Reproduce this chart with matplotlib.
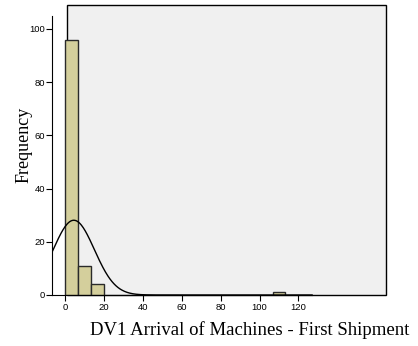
import numpy as np
import matplotlib.pyplot as plt
from matplotlib.patches import Rectangle

# histogram bins (left edges) and counts
largura = 20 / 3
bordas = [0, 20 / 3, 40 / 3, 320 / 3]
freq = [96, 11, 4, 1]

# normal curve fitted by SPSS
media = 4.5
desvio = 10.6
n_total = sum(freq)

xticks = [0, 20, 40, 60, 80, 100, 120]
yticks = [0, 20, 40, 60, 80, 100]

W, H = 418, 346
fig = plt.figure(figsize=(W / 100, H / 100), dpi=100)
ax = fig.add_axes([52 / W, 1 - 295 / H, (386 - 52) / W, (295 - 5) / H])
ax.set_xlim(-6.7, 165)
ax.set_ylim(0, 109)
ax.patch.set_visible(False)

# painel cinza
ax.add_patch(Rectangle((0.8, 0), 165 - 0.8, 109, facecolor='#f0f0f0',
                       edgecolor='black', linewidth=1.0, zorder=0,
                       clip_on=False))

ax.bar(bordas, freq, width=largura, align='edge', color='#d4cf9c',
       edgecolor='#2a2a2a', linewidth=1.0, zorder=2)

xs = np.linspace(-6.7, 127, 400)
ys = n_total * largura / (desvio * np.sqrt(2 * np.pi)) * np.exp(-0.5 * ((xs - media) / desvio) ** 2)
ax.plot(xs, ys, color='black', linewidth=1.0, zorder=3)

for s in ['top', 'right']:
    ax.spines[s].set_visible(False)
ax.spines['left'].set_bounds(0, 105)
ax.spines['bottom'].set_bounds(-6.7, 127)
ax.spines['left'].set_zorder(4)
ax.spines['bottom'].set_zorder(4)

ax.set_xticks(xticks)
ax.set_yticks(yticks)
ax.tick_params(axis='both', direction='out', length=4, width=0.8,
               labelsize=6.8, pad=2)
ax.tick_params(axis='y', pad=1)
for lab in ax.get_xticklabels() + ax.get_yticklabels():
    lab.set_fontfamily('Liberation Sans')

fig.text(24 / W, 1 - 145 / H, 'Frequency', rotation=90, ha='center',
         va='center', fontsize=13, family='Liberation Serif')
fig.text(250 / W, 1 - 330 / H, 'DV1 Arrival of Machines - First Shipment',
         ha='center', va='center', fontsize=13.5, family='Liberation Serif')

fig.savefig('out.png', dpi=100)
